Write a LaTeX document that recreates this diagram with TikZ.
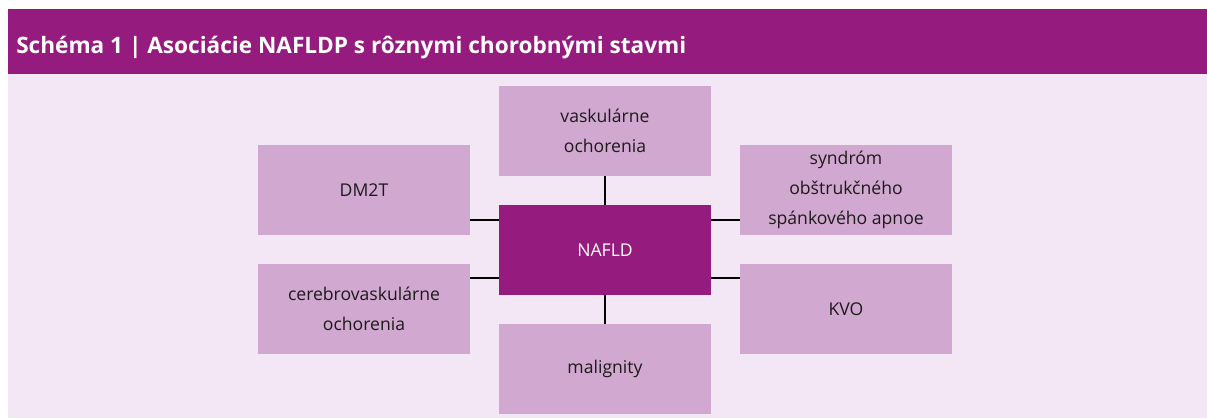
\documentclass[tikz,border=0pt]{standalone}
\usepackage{fontspec}
\setmainfont{Open Sans}
\usetikzlibrary{math}
\definecolor{myviolet}{RGB}{149,27,126}
\definecolor{mylilac}{RGB}{208,168,208}
\definecolor{mybg}{RGB}{243,231,245}
\definecolor{mytext}{RGB}{30,26,27}

\begin{document}
\begin{tikzpicture}[x=0.75pt,y=-0.75pt,
  box/.style={fill=mylilac, text=mytext, inner sep=0pt, align=center,
    minimum width=159pt, minimum height=67.5pt,
    font=\fontsize{13.2}{22.5}\selectfont},
  link/.style={line width=1.1pt, black}]
\tikzmath{
\W=1207;
\H=418;
\headtop=9;
\headbot=74;
\cx=605;
\lx=364;
\rx=846;
}
\useasboundingbox (0,0) rectangle (\W,\H);

% header and background
\fill[color=myviolet] (8,\headtop) rectangle (\W,\headbot);
\fill[color=mybg] (8,\headbot) rectangle (\W,\H);
\node[anchor=base west, text=white, inner sep=0pt,
  font=\fontsize{16.95}{20}\selectfont\bfseries] (title) at (16,53)
  {Schéma 1 | Asociácie NAFLDP s rôznymi chorobnými stavmi};

% boxes
\node[box, fill=myviolet, text=white] (nafld) at (\cx,250) {NAFLD};
\node[box] (vask) at (\cx,131) {vaskulárne\\ochorenia};
\node[box] (malig) at (\cx,369) {malignity};
\node[box] (dm2t) at (\lx,190) {DM2T};
\node[box] (cerebro) at (\lx,309) {cerebrovaskulárne\\ochorenia};
\node[box] (sas) at (\rx,190) {syndróm\\obštrukčného\\spánkového apnoe};
\node[box] (kvo) at (\rx,309) {KVO};

% connectors
\coordinate (rowa) at (0,220);
\coordinate (rowb) at (0,278);
\draw[link] (vask.south) -- (nafld.north);
\draw[link] (malig.north) -- (nafld.south);
\draw[link] (dm2t.east |- rowa) -- (nafld.west |- rowa);
\draw[link] (cerebro.east |- rowb) -- (nafld.west |- rowb);
\draw[link] (sas.west |- rowa) -- (nafld.east |- rowa);
\draw[link] (kvo.west |- rowb) -- (nafld.east |- rowb);
\end{tikzpicture}
\end{document}
